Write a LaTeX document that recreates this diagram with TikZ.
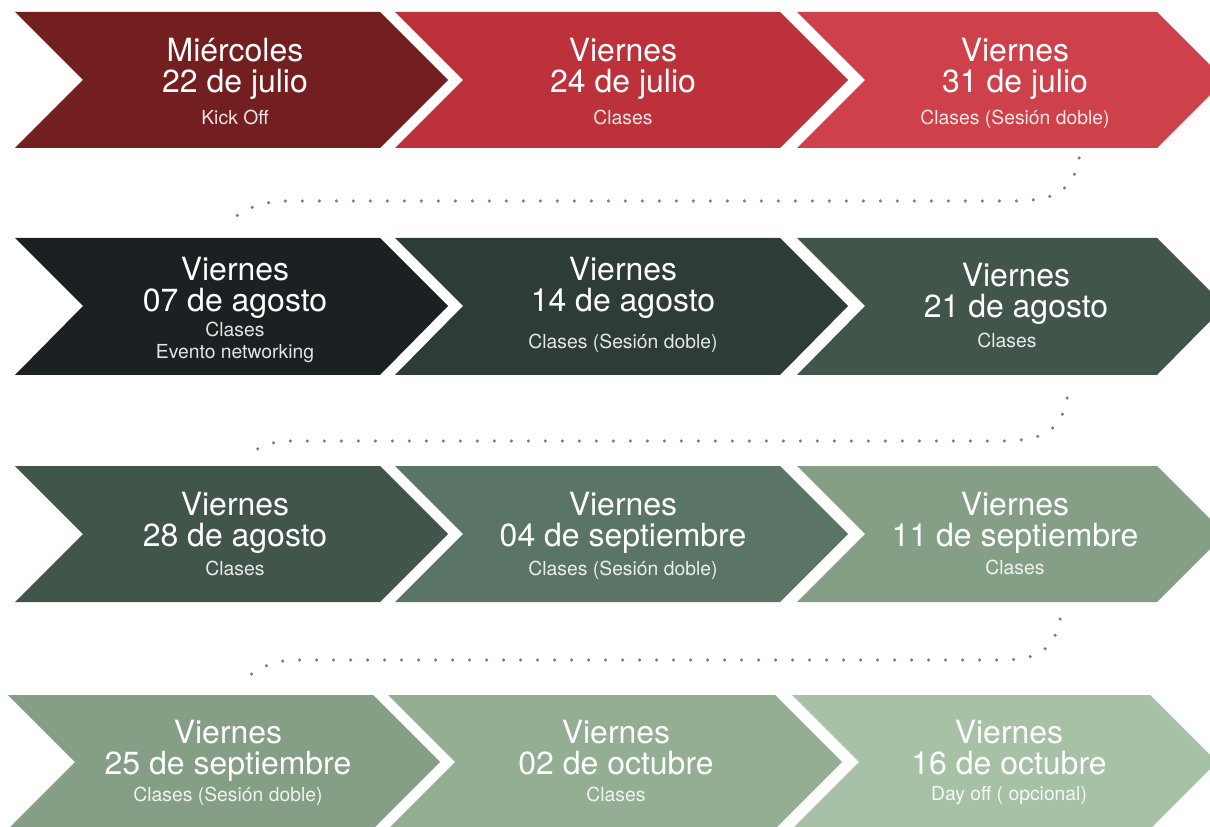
\documentclass[tikz,border=0pt]{standalone}
\usepackage{fontspec}
\setmainfont{TeX Gyre Heros}
\usepackage{xcolor}
\definecolor{rojoA}{HTML}{731F1F}
\definecolor{rojoB}{HTML}{BC313A}
\definecolor{rojoC}{HTML}{CE414B}
\definecolor{verdeA}{HTML}{1B2122}
\definecolor{verdeB}{HTML}{2D3C36}
\definecolor{verdeC}{HTML}{42554B}
\definecolor{verdeD}{HTML}{5A7565}
\definecolor{verdeE}{HTML}{849F86}
\definecolor{verdeF}{HTML}{93AE93}
\definecolor{verdeG}{HTML}{A7C1A7}
\definecolor{gris}{HTML}{7E7E7E}

\begin{document}
\begin{tikzpicture}[x=0.02cm,y=-0.02cm]

\tikzset{dia/.style = {anchor=base, text=white, inner sep=0pt, font=\fontsize{18.2}{20}\selectfont}}
\tikzset{nota/.style = {anchor=base, text=white, text opacity=0.88, inner sep=0pt, font=\fontsize{11}{13}\selectfont}}
\tikzset{puntos/.style = {draw=gris, line width=0.07cm, line cap=round, dash pattern=on 0pt off 0.34cm}}

\path[use as bounding box] (0,0) rectangle (1210,827);
\clip (0,0) rectangle (1210,827);

%fila 1
\fill[rojoA] (15,12) -- (380,12) -- (448,80) -- (380,148) -- (15,148) -- (83,80) -- cycle;
\fill[rojoB] (395,12) -- (780,12) -- (848,80) -- (780,148) -- (395,148) -- (463,80) -- cycle;
\fill[rojoC] (797,12) -- (1157,12) -- (1225,80) -- (1157,148) -- (797,148) -- (865,80) -- cycle;
\node[dia] (d1) at (235,62) {Miércoles};
\node[dia] (f1) at (235,93) {22 de julio};
\node[nota] (n1) at (235,125) {Kick Off};
\node[dia] (d2) at (623,62) {Viernes};
\node[dia] (f2) at (623,93) {24 de julio};
\node[nota] (n2) at (623,125) {Clases};
\node[dia] (d3) at (1015,62) {Viernes};
\node[dia] (f3) at (1015,93) {31 de julio};
\node[nota] (n3) at (1015,125) {Clases (Sesión doble)};

%fila 2
\fill[verdeA] (15,238) -- (380,238) -- (448,306) -- (380,375) -- (15,375) -- (83,306) -- cycle;
\fill[verdeB] (395,238) -- (780,238) -- (848,306) -- (780,375) -- (395,375) -- (463,306) -- cycle;
\fill[verdeC] (797,238) -- (1157,238) -- (1225,306) -- (1157,375) -- (797,375) -- (865,306) -- cycle;
\node[dia] (d4) at (235,281) {Viernes};
\node[dia] (f4) at (235,312) {07 de agosto};
\node[nota] (n4) at (235,337) {Clases};
\node[nota] (m4) at (235,358) {Evento networking};
\node[dia] (d5) at (623,281) {Viernes};
\node[dia] (f5) at (623,312) {14 de agosto};
\node[nota] (n5) at (623,349) {Clases (Sesión doble)};
\node[dia] (d6) at (1016,287) {Viernes};
\node[dia] (f6) at (1016,318) {21 de agosto};
\node[nota] (n6) at (1007,348) {Clases};

%fila 3
\fill[verdeC] (15,466) -- (380,466) -- (448,534) -- (380,602) -- (15,602) -- (83,534) -- cycle;
\fill[verdeD] (395,466) -- (780,466) -- (848,534) -- (780,602) -- (395,602) -- (463,534) -- cycle;
\fill[verdeE] (797,466) -- (1157,466) -- (1225,534) -- (1157,602) -- (797,602) -- (865,534) -- cycle;
\node[dia] (d7) at (235,515) {Viernes};
\node[dia] (f7) at (235,546) {28 de agosto};
\node[nota] (n7) at (235,575) {Clases};
\node[dia] (d8) at (623,515) {Viernes};
\node[dia] (f8) at (623,546) {04 de septiembre};
\node[nota] (n8) at (623,575) {Clases (Sesión doble)};
\node[dia] (d9) at (1015,515) {Viernes};
\node[dia] (f9) at (1015,546) {11 de septiembre};
\node[nota] (n9) at (1015,574) {Clases};

%fila 4
\fill[verdeE] (8,695) -- (373,695) -- (440,762) -- (373,829) -- (8,829) -- (75,762) -- cycle;
\fill[verdeF] (388,695) -- (775,695) -- (842,762) -- (775,829) -- (388,829) -- (455,762) -- cycle;
\fill[verdeG] (792,695) -- (1150,695) -- (1217,762) -- (1150,829) -- (792,829) -- (859,762) -- cycle;
\node[dia] (d10) at (228,743) {Viernes};
\node[dia] (f10) at (228,774) {25 de septiembre};
\node[nota] (n10) at (228,801) {Clases (Sesión doble)};
\node[dia] (d11) at (616,743) {Viernes};
\node[dia] (f11) at (616,774) {02 de octubre};
\node[nota] (n11) at (616,801) {Clases};
\node[dia] (d12) at (1009,743) {Viernes};
\node[dia] (f12) at (1009,774) {16 de octubre};
\node[nota] (n12) at (1009,800) {Day off ( opcional)};

%puntos entre filas
\coordinate (a1) at (1079,158);
\coordinate (b1) at (235,217);
\coordinate (a2) at (1067,398);
\coordinate (b2) at (254,451);
\coordinate (a3) at (1060,619);
\coordinate (b3) at (249,676);
\draw[puntos] (a1) .. controls (1073,194) and (1050,201) .. (1012,201) -- (288,201) .. controls (266,201) and (248,207) .. (b1);
\draw[puntos] (a2) .. controls (1061,434) and (1038,441) .. (1000,441) -- (292,441) .. controls (274,441) and (264,445) .. (b2);
\draw[puntos] (a3) .. controls (1054,654) and (1032,660) .. (1000,660) -- (297,660) .. controls (276,660) and (260,667) .. (b3);
\end{tikzpicture}
\end{document}
